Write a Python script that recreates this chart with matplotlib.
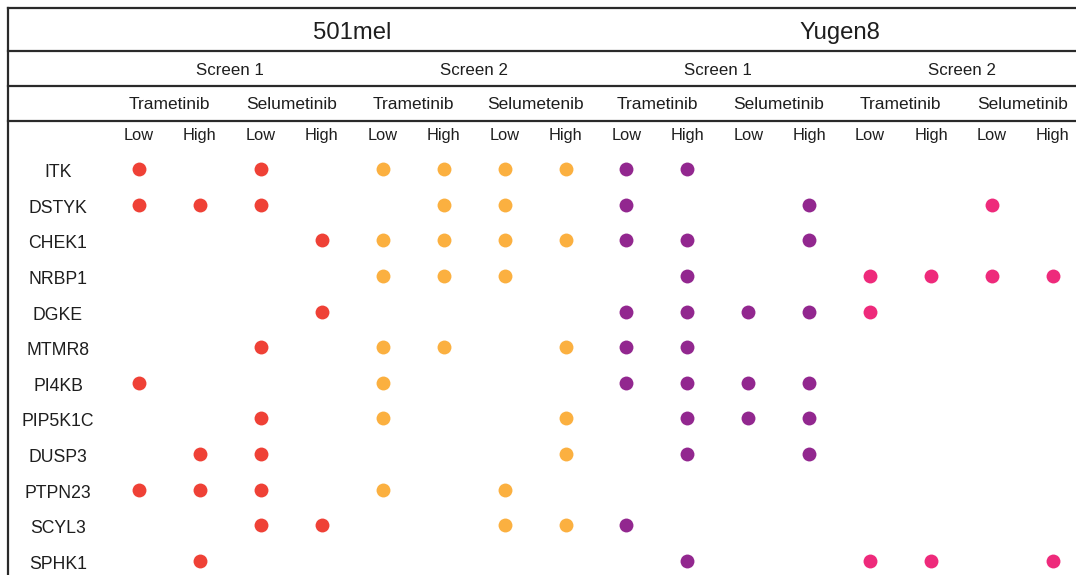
import matplotlib
matplotlib.use("Agg")
import matplotlib.pyplot as plt

plt.rcParams['font.family'] = ['Liberation Sans', 'DejaVu Sans']

# ---------------- data ----------------
genes = ["ITK", "DSTYK", "CHEK1", "NRBP1", "DGKE", "MTMR8", "PI4KB",
         "PIP5K1C", "DUSP3", "PTPN23", "SCYL3", "SPHK1"]
cell_lines = ["501mel", "Yugen8"]
screens = ["Screen 1", "Screen 2", "Screen 1", "Screen 2"]
drugs = ["Trametinib", "Selumetinib", "Trametinib", "Selumetenib",
         "Trametinib", "Selumetinib", "Trametinib", "Selumetinib"]
doses = ["Low", "High"] * 8

# columns: Trametinib Low, Trametinib High, Selumetinib Low, Selumetinib High
hits_501mel_screen1 = [
    [1, 0, 1, 0],  # ITK
    [1, 1, 1, 0],  # DSTYK
    [0, 0, 0, 1],  # CHEK1
    [0, 0, 0, 0],  # NRBP1
    [0, 0, 0, 1],  # DGKE
    [0, 0, 1, 0],  # MTMR8
    [1, 0, 0, 0],  # PI4KB
    [0, 0, 1, 0],  # PIP5K1C
    [0, 1, 1, 0],  # DUSP3
    [1, 1, 1, 0],  # PTPN23
    [0, 0, 1, 1],  # SCYL3
    [0, 1, 0, 0],  # SPHK1
]
hits_501mel_screen2 = [
    [1, 1, 1, 1],
    [0, 1, 1, 0],
    [1, 1, 1, 1],
    [1, 1, 1, 0],
    [0, 0, 0, 0],
    [1, 1, 0, 1],
    [1, 0, 0, 0],
    [1, 0, 0, 1],
    [0, 0, 0, 1],
    [1, 0, 1, 0],
    [0, 0, 1, 1],
    [0, 0, 0, 0],
]
hits_yugen8_screen1 = [
    [1, 1, 0, 0],
    [1, 0, 0, 1],
    [1, 1, 0, 1],
    [0, 1, 0, 0],
    [1, 1, 1, 1],
    [1, 1, 0, 0],
    [1, 1, 1, 1],
    [0, 1, 1, 1],
    [0, 1, 0, 1],
    [0, 0, 0, 0],
    [1, 0, 0, 0],
    [0, 1, 0, 0],
]
hits_yugen8_screen2 = [
    [0, 0, 0, 0],
    [0, 0, 1, 0],
    [0, 0, 0, 0],
    [1, 1, 1, 1],
    [1, 0, 0, 0],
    [0, 0, 0, 0],
    [0, 0, 0, 0],
    [0, 0, 0, 0],
    [0, 0, 0, 0],
    [0, 0, 0, 0],
    [0, 0, 0, 0],
    [1, 1, 0, 1],
]
groups = [hits_501mel_screen1, hits_501mel_screen2,
          hits_yugen8_screen1, hits_yugen8_screen2]
group_colors = ["#EF4136", "#FBB040", "#92278F", "#EE2A7B"]

# ---------------- layout ----------------
W, H = 1076, 575
col0_px, col_step = 139.0, 60.93
row0_px, row_step = 169.0, 35.64


def xd(px):
    return (px - col0_px) / col_step


def yd(py):
    return (py - row0_px) / row_step


fig = plt.figure(figsize=(W / 100, H / 100), dpi=100)
ax = fig.add_axes([0, 0, 1, 1])
ax.set_xlim(xd(0), xd(W))
ax.set_ylim(yd(H), yd(0))
ax.axis("off")

line_kw = dict(color="#2a2a2a", lw=1.6, solid_capstyle="projecting", clip_on=False)
for ypx in [8, 51, 86, 121]:
    ax.plot([xd(8), xd(W + 5)], [yd(ypx), yd(ypx)], **line_kw)
ax.plot([xd(8), xd(8)], [yd(8), yd(H + 5)], **line_kw)

txt = "#1e1e1e"
ncol = len(doses)
# cell line headers
per_line = ncol // len(cell_lines)
for i, name in enumerate(cell_lines):
    xc = i * per_line + (per_line - 1) / 2
    ax.text(xc, yd(39), name, ha="center", va="baseline", fontsize=17.2, color=txt)
# screens
per_screen = ncol // len(screens)
for i, name in enumerate(screens):
    xc = i * per_screen + (per_screen - 1) / 2
    ax.text(xc, yd(75), name, ha="center", va="baseline", fontsize=12.2, color=txt)
# drugs
per_drug = ncol // len(drugs)
for i, name in enumerate(drugs):
    xc = i * per_drug + (per_drug - 1) / 2
    ax.text(xc, yd(109), name, ha="center", va="baseline", fontsize=12.5, color=txt)
# doses
for i, name in enumerate(doses):
    ax.text(i, yd(140), name, ha="center", va="baseline", fontsize=11.8, color=txt)
# genes
for r, g in enumerate(genes):
    ax.text(xd(58), r + 8 / row_step, g, ha="center", va="baseline",
            fontsize=12.7, color=txt)

# dots
for gi, (hits, colr) in enumerate(zip(groups, group_colors)):
    xs, ys = [], []
    for r, row in enumerate(hits):
        for k, v in enumerate(row):
            if v:
                xs.append(gi * 4 + k)
                ys.append(r)
    ax.scatter(xs, ys, s=100, color=colr, linewidths=0, zorder=3)

fig.savefig("out.png", dpi=100)
